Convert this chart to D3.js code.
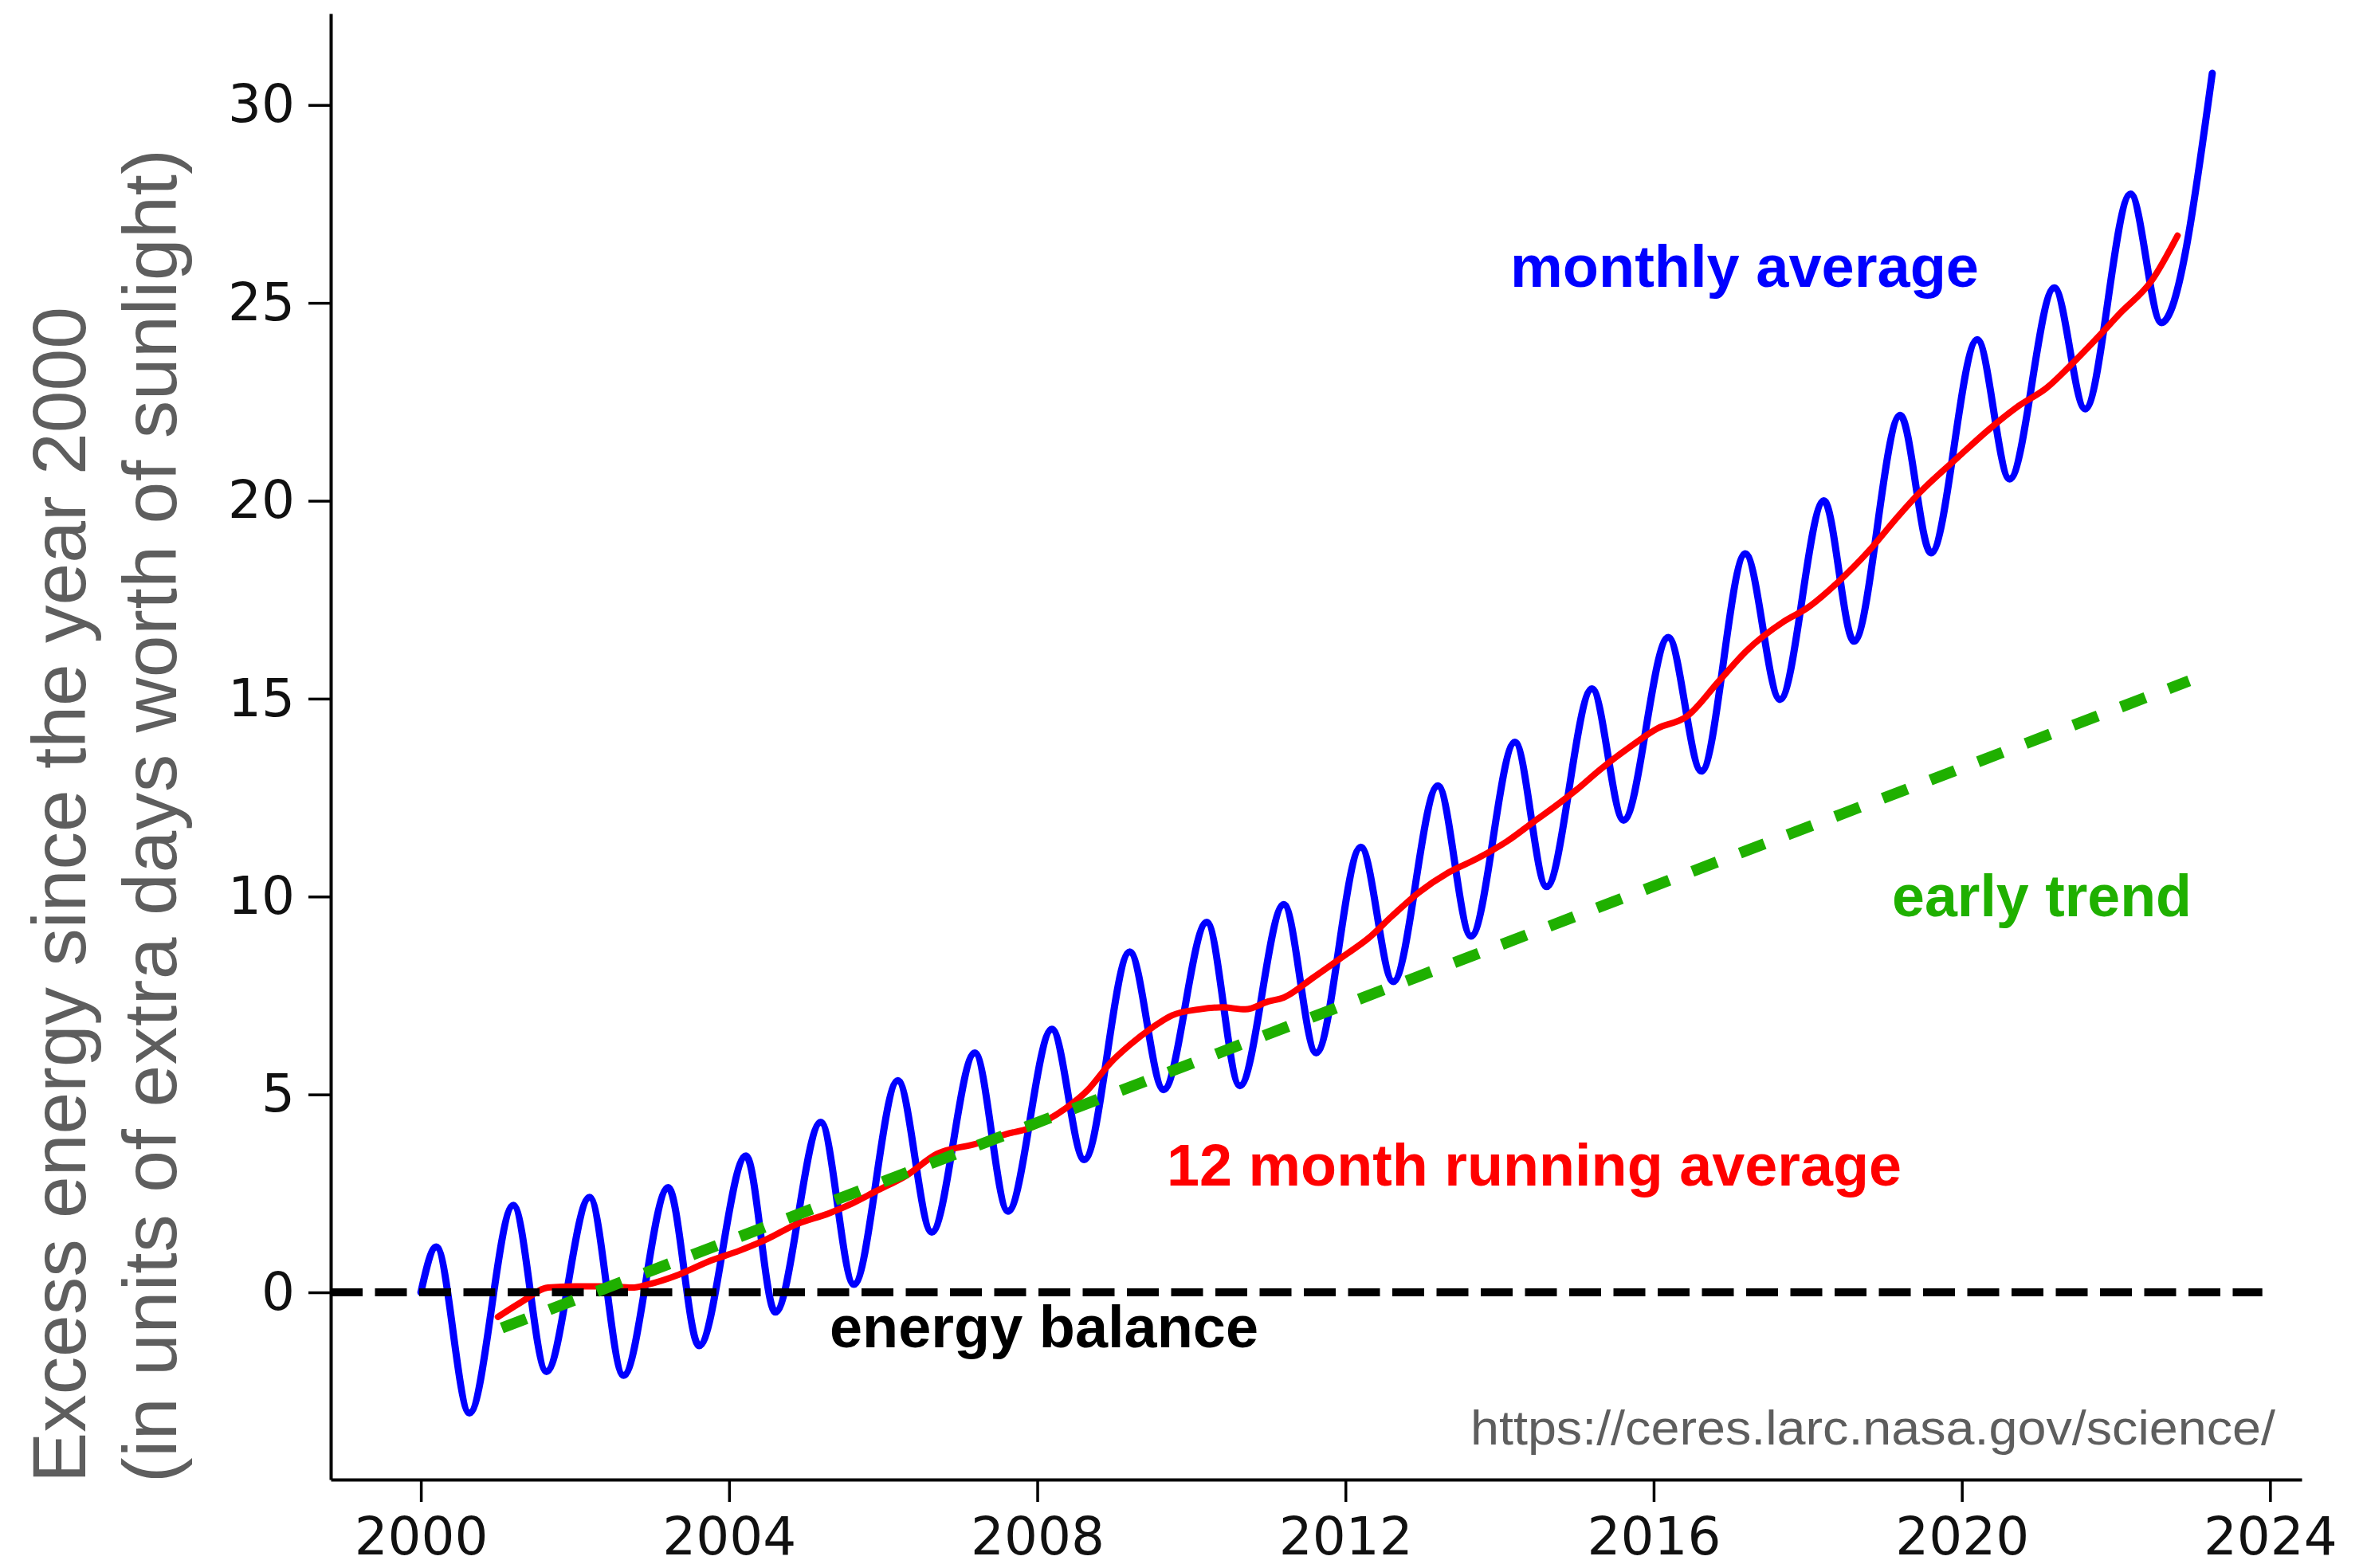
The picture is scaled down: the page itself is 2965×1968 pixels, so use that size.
<!DOCTYPE html>
<html>
<head>
<meta charset="utf-8">
<script src="https://cdn.jsdelivr.net/npm/d3@7"></script>
<style>
  body { margin: 0; background: #fff; }
  svg { display: block; }
</style>
</head>
<body>
<svg id="chart"></svg>
<script>
'use strict';

// monthly average, read at the seasonal peaks and troughs
const monthlyYears = [
  2000.0, 2000.2, 2000.63, 2001.2, 2001.63, 2002.19, 2002.63, 2003.21, 2003.61,
  2004.22, 2004.6, 2005.19, 2005.62, 2006.19, 2006.63, 2007.19, 2007.62, 2008.19,
  2008.61, 2009.2, 2009.64, 2010.2, 2010.63, 2011.2, 2011.62, 2012.2, 2012.62,
  2013.2, 2013.63, 2014.2, 2014.61, 2015.2, 2015.61, 2016.19, 2016.62, 2017.19,
  2017.64, 2018.21, 2018.6, 2019.2, 2019.6, 2020.2, 2020.62, 2021.2, 2021.6,
  2022.19, 2022.59, 2023.25
];
const monthlyValues = [
  0, 1.15, -3.05, 2.2, -2.0, 2.4, -2.1, 2.65, -1.35,
  3.45, -0.5, 4.3, 0.2, 5.35, 1.52, 6.05, 2.05, 6.65,
  3.35, 8.6, 5.12, 9.35, 5.22, 9.8, 6.05, 11.25, 7.85,
  12.8, 9.0, 13.9, 10.25, 15.25, 11.93, 16.55, 13.17, 18.66,
  14.98, 20.0, 16.45, 22.16, 18.68, 24.07, 20.55, 25.38, 22.32,
  27.75, 24.5, 30.8
];

// 12 month running average
const runningYears = [
  2001.0, 2001.3, 2001.65, 2002.0, 2002.4, 2002.74, 2002.95, 2003.35, 2003.76,
  2004.13, 2004.5, 2004.85, 2005.3, 2005.6, 2005.9, 2006.3, 2006.7, 2007.2,
  2007.6, 2007.9, 2008.37, 2008.65, 2008.95, 2009.2, 2009.5, 2009.75, 2010.1,
  2010.4, 2010.7, 2011.0, 2011.2, 2011.58, 2011.98, 2012.3, 2012.6, 2012.95,
  2013.33, 2013.7, 2014.1, 2014.45, 2014.7, 2015.0, 2015.3, 2015.67, 2016.05,
  2016.43, 2016.85, 2017.2, 2017.69, 2018.0, 2018.39, 2018.8, 2019.17, 2019.45,
  2019.95, 2020.35, 2020.74, 2021.1, 2021.4, 2021.75, 2022.06, 2022.46, 2022.8
];
const runningValues = [
  -0.62, -0.25, 0.12, 0.15, 0.15, 0.12, 0.2, 0.45, 0.8,
  1.05, 1.35, 1.7, 2.0, 2.25, 2.55, 2.95, 3.5, 3.75,
  4.0, 4.15, 4.65, 5.1, 5.8, 6.25, 6.7, 7.0, 7.15,
  7.2, 7.15, 7.35, 7.45, 7.95, 8.5, 8.95, 9.5, 10.1,
  10.6, 10.95, 11.4, 11.9, 12.25, 12.7, 13.2, 13.75, 14.25,
  14.55, 15.45, 16.2, 16.95, 17.3, 17.94, 18.75, 19.6, 20.2,
  21.1, 21.8, 22.4, 22.85, 23.4, 24.1, 24.75, 25.55, 26.7
];

// early trend (straight line) and the energy balance line
const trendYears = [2001.05, 2022.95];
const trendValues = [-0.9, 15.45];
const balanceYears = [1998.83, 2023.9];
const balanceValues = [0, 0];

const xTicks = [2000, 2004, 2008, 2012, 2016, 2020, 2024];
const yTicks = [0, 5, 10, 15, 20, 25, 30];
const xDomain = [1998.83, 2024.41];
const yDomain = [-4.73, 32.31];

const yTitle = ['Excess energy since the year 2000', '(in units of extra days worth of sunlight)'];
const labels = [
  { text: 'monthly average', color: '#0000ff', x: 1895, y: 360, len: 588 },
  { text: '12 month running average', color: '#ff0000', x: 1464, y: 1488, len: 922 },
  { text: 'early trend', color: '#1fb000', x: 2374, y: 1150, len: 376 },
  { text: 'energy balance', color: '#000000', x: 1041, y: 1691, len: 538 }
];
const sourceText = 'https://ceres.larc.nasa.gov/science/';

const width = 2965;
const height = 1968;
const plot = { left: 415, right: 2888, top: 17, bottom: 1857 };

const svg = d3.select('#chart')
  .attr('width', width)
  .attr('height', height);

svg.append('rect')
  .attr('width', width)
  .attr('height', height)
  .attr('fill', '#fff');

const x = d3.scaleLinear().domain(xDomain).range([plot.left, plot.right]);
const y = d3.scaleLinear().domain(yDomain).range([plot.bottom, plot.top]);

const zip = (a, b) => a.map((v, i) => [v, b[i]]);

const line = d3.line()
  .x(d => x(d[0]))
  .y(d => y(d[1]));

// monthly average (blue)
svg.append('path')
  .datum(zip(monthlyYears, monthlyValues))
  .attr('d', line.curve(d3.curveMonotoneX))
  .attr('fill', 'none')
  .attr('stroke', '#0000ff')
  .attr('stroke-width', 9)
  .attr('stroke-linejoin', 'round')
  .attr('stroke-linecap', 'round');

// running average (red)
svg.append('path')
  .datum(zip(runningYears, runningValues))
  .attr('d', line.curve(d3.curveMonotoneX))
  .attr('fill', 'none')
  .attr('stroke', '#ff0000')
  .attr('stroke-width', 8)
  .attr('stroke-linejoin', 'round')
  .attr('stroke-linecap', 'round');

// energy balance (black dashes)
svg.append('path')
  .datum(zip(balanceYears, balanceValues))
  .attr('d', line.curve(d3.curveLinear))
  .attr('fill', 'none')
  .attr('stroke', '#000')
  .attr('stroke-width', 10)
  .attr('stroke-dasharray', '40,15.5');

// early trend (green dashes)
svg.append('path')
  .datum(zip(trendYears, trendValues))
  .attr('d', line.curve(d3.curveLinear))
  .attr('fill', 'none')
  .attr('stroke', '#1fb000')
  .attr('stroke-width', 14)
  .attr('stroke-dasharray', '33,31');

// axes
const tickFont = '"DejaVu Sans", sans-serif';

const xAxis = svg.append('g')
  .attr('transform', `translate(0,${plot.bottom})`)
  .call(d3.axisBottom(x)
    .tickValues(xTicks)
    .tickFormat(d3.format('d'))
    .tickSize(28)
    .tickSizeOuter(0)
    .tickPadding(19));

const yAxis = svg.append('g')
  .attr('transform', `translate(${plot.left},0)`)
  .call(d3.axisLeft(y)
    .tickValues(yTicks)
    .tickSize(28)
    .tickSizeOuter(0)
    .tickPadding(17));

[xAxis, yAxis].forEach(g => {
  g.select('.domain').attr('stroke', '#000').attr('stroke-width', 4);
  g.selectAll('.tick line').attr('stroke', '#000').attr('stroke-width', 3.5);
  g.selectAll('.tick text')
    .attr('fill', '#111')
    .style('font-family', tickFont)
    .style('font-size', '66px');
});

// y axis title, two lines
yTitle.forEach((t, i) => {
  svg.append('text')
    .attr('transform', `translate(${107 + i * 114},1861) rotate(-90)`)
    .attr('text-anchor', 'start')
    .attr('fill', '#5e5e5e')
    .attr('textLength', i === 0 ? 1476 : 1674)
    .style('font-family', '"Liberation Sans", Arial, Helvetica, sans-serif')
    .style('font-size', '95px')
    .text(t);
});

// series labels
svg.selectAll('.series-label')
  .data(labels)
  .enter()
  .append('text')
    .attr('class', 'series-label')
    .attr('x', d => d.x)
    .attr('y', d => d.y)
    .attr('fill', d => d.color)
    .attr('textLength', d => d.len)
    .attr('lengthAdjust', 'spacingAndGlyphs')
    .style('font-family', '"Liberation Sans", Arial, Helvetica, sans-serif')
    .style('font-weight', 'bold')
    .style('font-size', '74px')
    .text(d => d.text);

// source
svg.append('text')
  .attr('x', 1845)
  .attr('y', 1813)
  .attr('fill', '#5e5e5e')
  .attr('textLength', 1010)
  .attr('lengthAdjust', 'spacingAndGlyphs')
  .style('font-family', '"Liberation Sans", Arial, Helvetica, sans-serif')
  .style('font-size', '61px')
  .text(sourceText);
</script>
</body>
</html>
